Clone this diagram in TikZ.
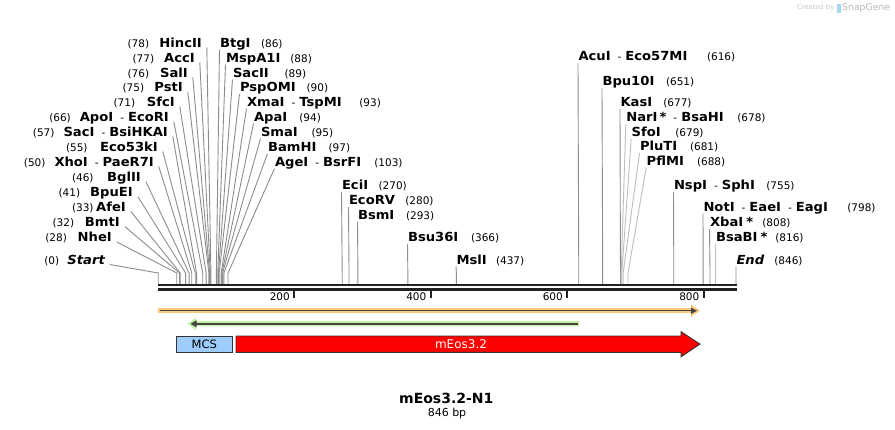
\documentclass[tikz,border=0pt]{standalone}
\usepackage{fontspec}
\usepackage{graphicx}
\setmainfont{DejaVu Sans}
\usetikzlibrary{calc}
\definecolor{sitegray}{HTML}{8C8C8C}
\definecolor{sitelight}{HTML}{BDBDBD}
\definecolor{barblack}{HTML}{222222}
\definecolor{bandorange}{HTML}{F9C97C}
\definecolor{bandgreen}{HTML}{C2F29C}
\definecolor{featline}{HTML}{444444}
\definecolor{mcsblue}{HTML}{9DCBFA}
\definecolor{edgegray}{HTML}{333333}
\definecolor{wmgray}{HTML}{C8C8C8}
\definecolor{wmblue}{HTML}{A9D7F2}
\newcommand\sname[1]{\scalebox{1.05}[1]{\fontsize{12.5}{14}\selectfont\bfseries #1}}
\newcommand\snum[1]{{\fontsize{10.5}{12}\selectfont\mdseries #1}}
% left-side site: #1 id, #2 bp, #3 name right x, #4 centre y, #5 name, #6 line style
\newcommand\Lsite[6]{%
  \node[lab, anchor=base east] (#1) at (#3+0.8,#4+4.5) {\sname{#5}};
  \draw[#6] ($(#1.base east)+(5,0.5)$) -- ({157.6+0.6837*#2},273) -- ({157.6+0.6837*#2},285);}
% right-side site: #1 id, #2 bp, #3 name left x, #4 centre y, #5 name, #6 line style
\newcommand\Rsite[6]{%
  \node[lab, anchor=base west] (#1) at (#3-1,#4+4.5) {\sname{#5}};
  \draw[#6] ($(#1.base west)+(-0.5,2.5)$) -- ({157.6+0.6837*#2},273) -- ({157.6+0.6837*#2},285);}
% number at absolute left x: #1 id, #2 left x, #3 centre y, #4 text
\newcommand\Num[4]{\node[lab, anchor=base west] (#1) at (#2-0.7,#3+4.5) {\snum{#4}};}
% relative parts to the right of node #2
\newcommand\RDsh[2]{\node[lab, anchor=base west] (#1) at ($(#2.base east)+(7,0)$) {\snum{-}};}
\newcommand\RNm[3]{\node[lab, anchor=base west] (#1) at ($(#2.base east)+(4,0)$) {\sname{#3}};}
% relative parts to the left of node #2
\newcommand\LDsh[2]{\node[lab, anchor=base east] (#1) at ($(#2.base west)+(-4,0)$) {\snum{-}};}
\newcommand\LNm[3]{\node[lab, anchor=base east] (#1) at ($(#2.base west)+(-7,0)$) {\sname{#3}};}
\newcommand\LNum[3]{\node[lab, anchor=base east] (#1) at ($(#2.base west)+(-9,0)$) {\snum{#3}};}
\tikzset{
  lab/.style={inner sep=0pt, outer sep=0pt, text height=10pt, text depth=3pt},
  site/.style={draw=sitegray, line width=0.9pt},
  sitel/.style={draw=sitelight, line width=0.9pt},
  bar/.style={draw=barblack, line width=2.5pt},
  tick/.style={draw=barblack, line width=2pt},
  ticklab/.style={inner sep=0pt, anchor=east, font=\fontsize{10.5}{12}\selectfont},
}
\begin{document}
\begin{tikzpicture}[x=1pt,y=-1pt]
\useasboundingbox (0,0) rectangle (895,429);
\fill[white] (0,0) rectangle (895,429);

% watermark
\node[inner sep=0pt, anchor=east, text=wmgray, font=\fontsize{6.8}{8}\selectfont] (wm1) at (834.5,8) {Created by};
\fill[wmblue] (837,3.5) rectangle (841,13);
\node[inner sep=0pt, anchor=west, text=wmgray!80!gray, font=\fontsize{9.3}{10}\selectfont] (wm2) at (842,8) {SnapGene};

% ---------- left cluster ----------
\Num{nHincII}{128.3}{42.5}{(78)}   \Lsite{lHincII}{78}{201}{42.5}{HincII}{site}
\Num{nAccI}{133.3}{57.5}{(77)}     \Lsite{lAccI}{77}{194}{57.5}{AccI}{site}
\Num{nSalI}{128.3}{72.5}{(76)}     \Lsite{lSalI}{76}{187}{72.5}{SalI}{site}
\Num{nPstI}{123.3}{87}{(75)}       \Lsite{lPstI}{75}{182}{87}{PstI}{site}
\Num{nSfcI}{114.3}{101.5}{(71)}    \Lsite{lSfcI}{71}{174}{101.5}{SfcI}{site}
\Lsite{lEcoRI}{66}{168}{116.5}{EcoRI}{site}
   \LDsh{dEcoRI}{lEcoRI} \LNm{lApoI}{dEcoRI}{ApoI} \LNum{nEcoRI}{lApoI}{(66)}
\Lsite{lBsiHKAI}{57}{167}{131.5}{BsiHKAI}{site}
   \LDsh{dBsiHKAI}{lBsiHKAI} \LNm{lSacI}{dBsiHKAI}{SacI} \LNum{nBsiHKAI}{lSacI}{(57)}
\Num{nEco53kI}{66.7}{146.5}{(55)}  \Lsite{lEco53kI}{55}{157}{146.5}{Eco53kI}{site}
\Lsite{lPaeR7I}{50}{153}{161.5}{PaeR7I}{site}
   \LDsh{dPaeR7I}{lPaeR7I} \LNm{lXhoI}{dPaeR7I}{XhoI} \LNum{nPaeR7I}{lXhoI}{(50)}
\Num{nBglII}{72.7}{176.5}{(46)}    \Lsite{lBglII}{46}{140}{176.5}{BglII}{site}
\Num{nBpuEI}{59.3}{191.5}{(41)}    \Lsite{lBpuEI}{41}{132}{191.5}{BpuEI}{site}
\Num{nAfeI}{72.7}{206.5}{(33)}     \Lsite{lAfeI}{33}{125}{206.5}{AfeI}{site}
\Num{nBmtI}{53.3}{221.5}{(32)}     \Lsite{lBmtI}{32}{119}{221.5}{BmtI}{site}
\Num{nNheI}{46}{237}{(28)}         \Lsite{lNheI}{28}{111}{237}{NheI}{site}
\Num{nStart}{45}{259.5}{(0)}       \Lsite{lStart}{1}{104}{259.5}{\itshape Start}{site}

% ---------- right cluster near MCS ----------
\Rsite{lBtgI}{86}{221}{42.5}{BtgI}{site}        \Num{nBtgI}{261.7}{42.5}{(86)}
\Rsite{lMspA1I}{88}{227}{57.5}{MspA1I}{site}    \Num{nMspA1I}{291}{57.5}{(88)}
\Rsite{lSacII}{89}{234}{72.5}{SacII}{site}      \Num{nSacII}{285.3}{72.5}{(89)}
\Rsite{lPspOMI}{90}{241}{87}{PspOMI}{site}      \Num{nPspOMI}{307.3}{87}{(90)}
\Rsite{lXmaI}{93}{248}{101.5}{XmaI}{site}
   \RDsh{dTspMI}{lXmaI} \RNm{lTspMI}{dTspMI}{TspMI}   \Num{nTspMI}{360}{101.5}{(93)}
\Rsite{lApaI}{94}{255}{116.5}{ApaI}{site}       \Num{nApaI}{300}{116.5}{(94)}
\Rsite{lSmaI}{95}{262}{131.5}{SmaI}{site}       \Num{nSmaI}{312.3}{131.5}{(95)}
\Rsite{lBamHI}{97}{269}{146.5}{BamHI}{site}     \Num{nBamHI}{329.3}{146.5}{(97)}
\Rsite{lAgeI}{103}{276}{161.5}{AgeI}{site}
   \RDsh{dBsrFI}{lAgeI} \RNm{lBsrFI}{dBsrFI}{BsrFI}   \Num{nBsrFI}{375}{161.5}{(103)}

% ---------- middle sites ----------
\Rsite{lEciI}{270}{343}{185}{EciI}{site}        \Num{nEciI}{379.3}{185}{(270)}
\Rsite{lEcoRV}{280}{350}{200}{EcoRV}{site}      \Num{nEcoRV}{406}{200}{(280)}
\Rsite{lBsmI}{293}{359}{214.5}{BsmI}{site}      \Num{nBsmI}{406.7}{214.5}{(293)}
\Rsite{lBsu36I}{366}{409}{237}{Bsu36I}{site}    \Num{nBsu36I}{471.7}{237}{(366)}
\Rsite{lMslI}{437}{457.5}{259.5}{MslI}{site}    \Num{nMslI}{496.7}{259.5}{(437)}

% ---------- right sites ----------
\Rsite{lAcuI}{616}{579.5}{56}{AcuI}{site}
   \RDsh{dEco57MI}{lAcuI} \RNm{lEco57MI}{dEco57MI}{Eco57MI}   \Num{nEco57MI}{707.7}{56}{(616)}
\Rsite{lBpu10I}{651}{603.5}{81}{Bpu10I}{site}   \Num{nBpu10I}{666.7}{81}{(651)}
\Rsite{lKasI}{677}{621.5}{102}{KasI}{site}      \Num{nKasI}{664}{102}{(677)}
\Rsite{lNarI}{678}{627.3}{117}{NarI\hspace{2pt}*}{sitel}
   \RDsh{dBsaHI}{lNarI} \RNm{lBsaHI}{dBsaHI}{BsaHI}   \Num{nBsaHI}{738}{117}{(678)}
\Rsite{lSfoI}{679}{632.7}{132}{SfoI}{sitel}     \Num{nSfoI}{676}{132}{(679)}
\Rsite{lPluTI}{681}{641}{146}{PluTI}{sitel}     \Num{nPluTI}{690.7}{146}{(681)}
\Rsite{lPflMI}{688}{647.7}{160.5}{PflMI}{sitel} \Num{nPflMI}{697.7}{160.5}{(688)}
\Rsite{lNspI}{755}{675}{185}{NspI}{site}
   \RDsh{dSphI}{lNspI} \RNm{lSphI}{dSphI}{SphI}   \Num{nSphI}{767}{185}{(755)}
\Rsite{lNotI}{798}{704.5}{206.5}{NotI}{site}
   \RDsh{dEaeI}{lNotI} \RNm{lEaeI}{dEaeI}{EaeI}
   \RDsh{dEagI}{lEaeI} \RNm{lEagI}{dEagI}{EagI}   \Num{nEagI}{848}{206.5}{(798)}
\Rsite{lXbaI}{808}{711}{222}{XbaI\hspace{3pt}*}{site}    \Num{nXbaI}{763}{222}{(808)}
\Rsite{lBsaBI}{816}{717}{237}{BsaBI\hspace{3pt}*}{sitel} \Num{nBsaBI}{776}{237}{(816)}
\Rsite{lEnd}{846}{737.5}{259.5}{\itshape End}{site}      \Num{nEnd}{775}{259.5}{(846)}

% ---------- sequence bar ----------
\coordinate (b0) at (158,285.2);
\coordinate (b1) at (737,285.2);
\coordinate (c0) at (158,289.5);
\coordinate (c1) at (737,289.5);
\draw[bar] (b0) -- (b1);
\draw[bar] (c0) -- (c1);

% ticks
\foreach \tx/\tl in {294/200, 430.5/400, 567/600, 703.5/800}{
  \draw[tick] (\tx,290) -- (\tx,298);
  \node[ticklab] (t\tl) at (\tx-4,297) {\tl};
}

% orange feature (forward)
\coordinate (oS) at (158,310.7);
\coordinate (oE) at (692,310.7);
\draw[bandorange, line width=5.5pt] (oS) -- (oE);
\fill[bandorange] (691,304.5) -- (700,310.7) -- (691,316.9) -- cycle;
\draw[featline, line width=1.3pt] (160,310.7) -- (692,310.7);
\fill[featline] (691,307.5) -- (697,310.7) -- (691,313.9) -- cycle;

% green feature (reverse)
\coordinate (gS) at (579.3,323.8);
\coordinate (gE) at (195,323.8);
\draw[bandgreen, line width=5pt] (gS) -- (gE);
\fill[bandgreen] (196,317.6) -- (187.7,323.8) -- (196,330) -- cycle;
\draw[featline, line width=1.8pt] (577.7,323.8) -- (196,323.8);
\fill[featline] (196.5,320.3) -- (190.5,323.8) -- (196.5,327.3) -- cycle;

% MCS box
\node[draw=edgegray, line width=0.9pt, fill=mcsblue, minimum width=56.3pt, minimum height=16.3pt, inner sep=0pt, font=\fontsize{11.5}{13}\selectfont] (mcs) at (204.2,344.2) {MCS};

% mEos3.2 arrow
\filldraw[fill=red, draw=edgegray, line width=0.9pt] (236,336) -- (681,336) -- (681,331.7) -- (700,344.1) -- (681,356.7) -- (681,352.3) -- (236,352.3) -- cycle;
\node[text=white, inner sep=0pt, font=\fontsize{12}{14}\selectfont] (meos) at (461,344.1) {mEos3.2};

% title
\node[inner sep=0pt, font=\fontsize{14}{16}\selectfont\bfseries] (title) at (446.3,398.5) {mEos3.2-N1};
\node[inner sep=0pt, font=\fontsize{11}{13}\selectfont] (size) at (447,413.3) {846 bp};
\end{tikzpicture}
\end{document}
